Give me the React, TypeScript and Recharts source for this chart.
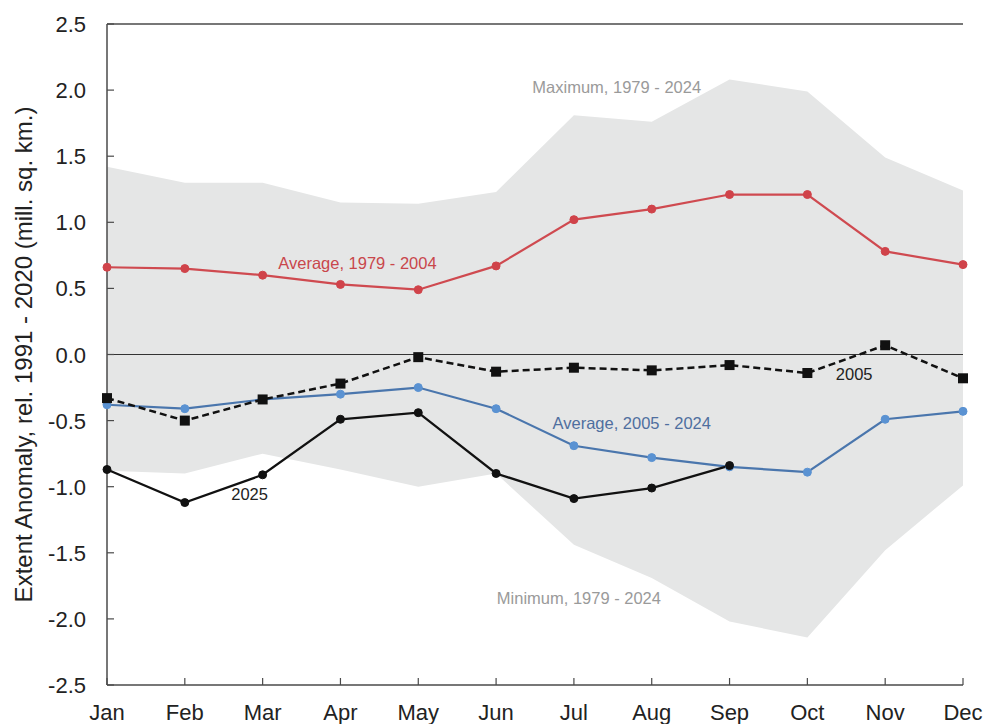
import {
  ComposedChart,
  Line,
  Area,
  XAxis,
  YAxis,
  ReferenceLine,
  ReferenceDot,
} from 'recharts';

const months = ['Jan', 'Feb', 'Mar', 'Apr', 'May', 'Jun', 'Jul', 'Aug', 'Sep', 'Oct', 'Nov', 'Dec'];

// Envelope of monthly extent anomalies, 1979 - 2024
const maxValues = [1.42, 1.3, 1.3, 1.15, 1.14, 1.23, 1.81, 1.76, 2.08, 1.99, 1.49, 1.24];
const minValues = [-0.88, -0.9, -0.75, -0.87, -1.0, -0.9, -1.44, -1.69, -2.02, -2.14, -1.48, -0.99];

const avgEarly = [0.66, 0.65, 0.6, 0.53, 0.49, 0.67, 1.02, 1.1, 1.21, 1.21, 0.78, 0.68];
const avgLate = [-0.38, -0.41, -0.34, -0.3, -0.25, -0.41, -0.69, -0.78, -0.85, -0.89, -0.49, -0.43];
const year2005 = [-0.33, -0.5, -0.34, -0.22, -0.02, -0.13, -0.1, -0.12, -0.08, -0.14, 0.07, -0.18];
const year2025 = [-0.87, -1.12, -0.91, -0.49, -0.44, -0.9, -1.09, -1.01, -0.84];

const yTicks = [-2.5, -2.0, -1.5, -1.0, -0.5, 0, 0.5, 1.0, 1.5, 2.0, 2.5];

const annotations = [
  { text: 'Maximum, 1979 - 2024', month: 'Aug', value: 2.02, dx: -35, color: '#9a9a9a' },
  { text: 'Average, 1979 - 2004', month: 'Apr', value: 0.69, dx: 17, color: '#c9474c' },
  { text: 'Average, 2005 - 2024', month: 'Aug', value: -0.52, dx: -20, color: '#4f6f9f' },
  { text: '2005', month: 'Nov', value: -0.15, dx: -31, color: '#222222' },
  { text: '2025', month: 'Mar', value: -1.06, dx: -13, color: '#222222' },
  { text: 'Minimum, 1979 - 2024', month: 'Jul', value: -1.84, dx: 5, color: '#9a9a9a' },
];

const data = months.map((m, i) => ({
  month: m,
  range: [minValues[i], maxValues[i]],
  avgEarly: avgEarly[i],
  avgLate: avgLate[i],
  y2005: year2005[i],
  y2025: i < year2025.length ? year2025[i] : null,
}));

const FONT = '"Liberation Sans", Arial, sans-serif';
const AXIS = '#4a4a4a';

function YTick(props: any) {
  const { x, y, payload } = props;
  const axisX = x + 21;
  return (
    <g>
      <line x1={axisX} x2={axisX + 7} y1={y} y2={y} stroke={AXIS} strokeWidth={1.2} />
      <text x={x} y={y} dy={8} textAnchor="end" fontSize={22} fontFamily={FONT} fill="#222">
        {payload.value.toFixed(1)}
      </text>
    </g>
  );
}

function XTick(props: any) {
  const { x, y, payload } = props;
  return (
    <g>
      <line x1={x} x2={x} y1={y} y2={y - 7} stroke={AXIS} strokeWidth={1.2} />
      <text x={x} y={y + 35} textAnchor="middle" fontSize={22} fontFamily={FONT} fill="#222">
        {payload.value}
      </text>
    </g>
  );
}

function SquareDot(props: any) {
  const { cx, cy } = props;
  if (cx == null || cy == null) return null;
  return <rect x={cx - 5} y={cy - 5} width={10} height={10} fill="#111" />;
}

export default function App() {
  return (
    <div style={{ position: 'absolute', left: 0, top: 0, background: '#fff' }}>
      <ComposedChart
        width={988}
        height={724}
        data={data}
        margin={{ top: 0, right: 25, bottom: 0, left: 0 }}
      >
        <XAxis
          dataKey="month"
          scale="point"
          tickLine={false}
          tickSize={0}
          tickMargin={0}
          height={39}
          axisLine={{ stroke: AXIS, strokeWidth: 1.5 }}
          tick={<XTick />}
          interval={0}
        />
        <XAxis
          xAxisId="top"
          orientation="top"
          dataKey="month"
          scale="point"
          height={24}
          tick={false}
          tickLine={false}
          axisLine={{ stroke: AXIS, strokeWidth: 1.5 }}
        />
        <YAxis
          domain={[-2.5, 2.5]}
          ticks={yTicks}
          width={107}
          tickLine={false}
          tickSize={0}
          tickMargin={21}
          axisLine={{ stroke: AXIS, strokeWidth: 1.5 }}
          tick={<YTick />}
          label={{
            value: 'Extent Anomaly, rel. 1991 - 2020 (mill. sq. km.)',
            angle: -90,
            position: 'insideLeft',
            offset: 23,
            style: { fontSize: 24, fontFamily: FONT, fill: '#222', textAnchor: 'middle' },
          }}
        />
        <YAxis
          yAxisId="right"
          orientation="right"
          domain={[-2.5, 2.5]}
          width={0}
          tick={false}
          tickLine={false}
          axisLine={{ stroke: AXIS, strokeWidth: 1.5 }}
        />
        <Area
          dataKey="range"
          stroke="none"
          fill="#e5e6e6"
          fillOpacity={1}
          isAnimationActive={false}
          activeDot={false}
        />
        <ReferenceLine y={0} stroke="#333" strokeWidth={1.2} />
        <Line
          dataKey="avgEarly"
          stroke="#cf4a50"
          strokeWidth={2.2}
          dot={{ r: 4, fill: '#d0434a', stroke: '#d0434a', strokeWidth: 1 }}
          isAnimationActive={false}
        />
        <Line
          dataKey="avgLate"
          stroke="#4a76ad"
          strokeWidth={2.2}
          dot={{ r: 4, fill: '#5a92d2', stroke: '#5a92d2', strokeWidth: 1 }}
          isAnimationActive={false}
        />
        <Line
          dataKey="y2005"
          stroke="#111"
          strokeWidth={2.5}
          strokeDasharray="7 4"
          dot={<SquareDot />}
          isAnimationActive={false}
        />
        <Line
          dataKey="y2025"
          stroke="#111"
          strokeWidth={2.3}
          dot={{ r: 4, fill: '#111', stroke: '#111', strokeWidth: 1 }}
          isAnimationActive={false}
          connectNulls={false}
        />
        {annotations.map((a) => (
          <ReferenceDot
            key={a.text}
            x={a.month}
            y={a.value}
            r={0}
            stroke="none"
            fill="none"
            label={{
              value: a.text,
              position: 'center',
              dx: a.dx,
              style: { fontSize: 16.5, fontFamily: FONT, fill: a.color },
            }}
          />
        ))}
      </ComposedChart>
    </div>
  );
}
